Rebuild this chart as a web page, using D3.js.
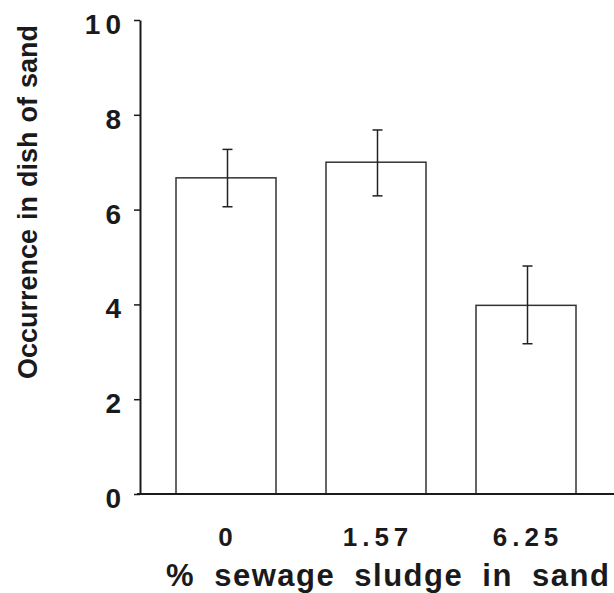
<!DOCTYPE html>
<html>
<head>
<meta charset="utf-8">
<script src="https://cdn.jsdelivr.net/npm/d3@7"></script>
<style>
  html, body { margin: 0; padding: 0; background: #fff; }
  svg { display: block; }
  text { font-family: "Liberation Sans", Arial, sans-serif; fill: #1a1a1a; }
</style>
</head>
<body>
<svg id="chart" width="614" height="593"></svg>
<script>
const categories = ["0", "1.57", "6.25"];
const means = [6.67, 7.0, 3.98];
const errLow = [6.06, 6.29, 3.17];
const errHigh = [7.27, 7.68, 4.81];
const yTicks = [0, 2, 4, 6, 8, 10];
const xTitle = "% sewage sludge in sand";
const yTitle = "Occurrence in dish of sand";

const svg = d3.select("#chart");
const ink = "#1a1a1a";

const x = d3.scaleBand().domain(categories).range([151, 601]).paddingInner(1/3).paddingOuter(1/6);
const y = d3.scaleLinear().domain([0, 10]).range([494, 20]);

// bars
svg.selectAll("rect.bar").data(categories).join("rect")
  .attr("class", "bar")
  .attr("x", d => x(d))
  .attr("y", (d, i) => y(means[i]))
  .attr("width", x.bandwidth())
  .attr("height", (d, i) => y(0) - y(means[i]))
  .attr("fill", "#fff")
  .attr("stroke", "#333")
  .attr("stroke-width", 1.5);

// error bars
const cap = 5;
const eg = svg.append("g").attr("stroke", "#222").attr("stroke-width", 1.5);
categories.forEach((c, i) => {
  const cx = x(c) + x.bandwidth() / 2 + 1.5;
  eg.append("line").attr("x1", cx).attr("x2", cx).attr("y1", y(errLow[i])).attr("y2", y(errHigh[i]));
  eg.append("line").attr("x1", cx - cap).attr("x2", cx + cap).attr("y1", y(errLow[i])).attr("y2", y(errLow[i]));
  eg.append("line").attr("x1", cx - cap).attr("x2", cx + cap).attr("y1", y(errHigh[i])).attr("y2", y(errHigh[i]));
});

// y axis
const yAxis = d3.axisLeft(y).tickValues(yTicks).tickSize(6).tickPadding(8).tickSizeOuter(0);
const gy = svg.append("g").attr("transform", "translate(140,0)").call(yAxis);
gy.select(".domain").attr("stroke", ink).attr("stroke-width", 2);
gy.selectAll(".tick line").attr("stroke", ink).attr("stroke-width", 1.5);
gy.selectAll(".tick text")
  .attr("font-size", 28).attr("font-weight", "bold").attr("letter-spacing", 5)
  .attr("dy", "0.48em").attr("fill", ink)
  .style("font-family", "'Liberation Sans', Arial, sans-serif");

// x axis line
svg.append("line").attr("x1", 137).attr("x2", 614).attr("y1", y(0)).attr("y2", y(0))
  .attr("stroke", ink).attr("stroke-width", 2);

// x tick labels
const xAxis = d3.axisBottom(x).tickSize(0).tickPadding(0);
const gx = svg.append("g").attr("transform", "translate(2,0)").call(xAxis);
gx.select(".domain").remove();
gx.selectAll(".tick text")
  .attr("y", 546).attr("dy", 0)
  .attr("font-size", 26).attr("font-weight", "bold").attr("letter-spacing", 5)
  .attr("fill", ink)
  .style("font-family", "'Liberation Sans', Arial, sans-serif");

// x title
svg.append("text")
  .attr("x", 166).attr("y", 586)
  .attr("font-size", 31).attr("font-weight", "bold")
  .attr("letter-spacing", 1.5).attr("word-spacing", 9)
  .text(xTitle);

// y title
svg.append("text")
  .attr("transform", "translate(37,379) rotate(-90)")
  .attr("font-size", 27).attr("font-weight", "bold")
  .attr("word-spacing", 1.5)
  .text(yTitle);
</script>
</body>
</html>
